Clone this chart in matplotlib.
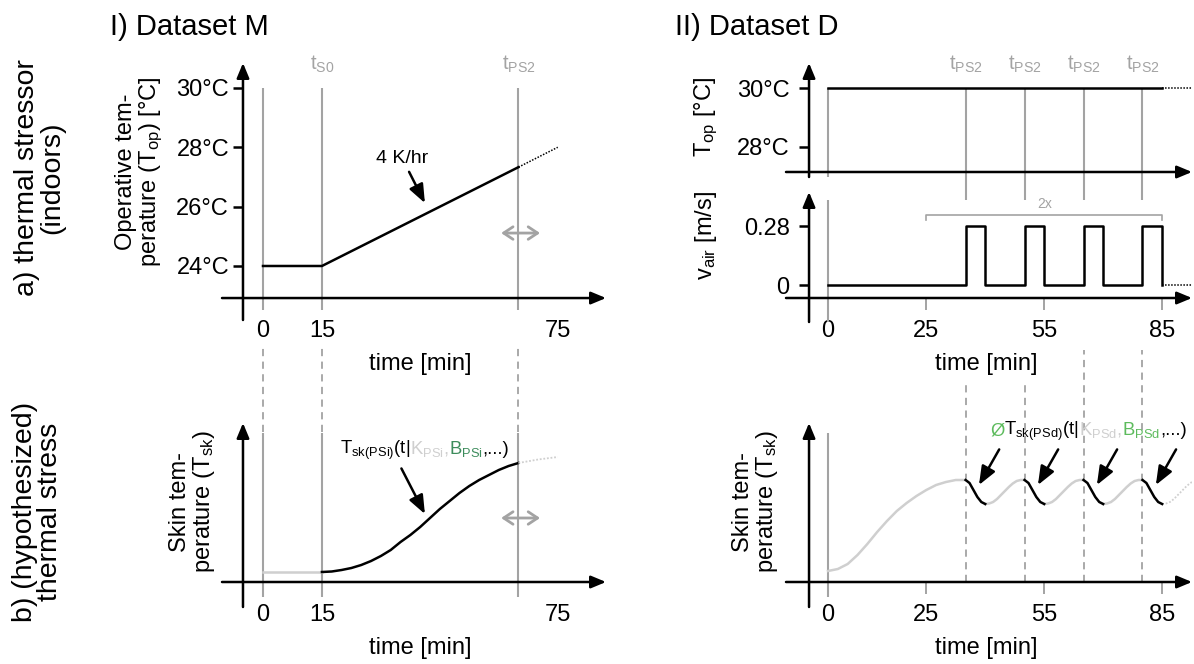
import matplotlib.pyplot as plt
from matplotlib import transforms

plt.rcParams['font.family'] = ['Liberation Sans', 'DejaVu Sans']
plt.rcParams['mathtext.default'] = 'regular'

# ---- I) Dataset M ----
m_top_t = [0, 15, 65]
m_top_T = [24, 24, 27.33]
m_top_dot_t = [65, 75]
m_top_dot_T = [27.33, 28.0]
m_yticks = [24, 26, 28, 30]
m_xticks = [0, 15, 75]
m_marks = [0, 15, 65]          # start, t_S0, t_PS2

m_skin_base_t = [0, 15]
m_skin_base = [10, 10]
m_skin_t = [15, 17.5, 20, 22.5, 25, 27.5, 30, 32.5, 35, 37.5, 40,
            42.5, 45, 47.5, 50, 52.5, 55, 57.5, 60, 62.5, 65]
m_skin = [10, 10.5, 12, 14, 17, 21, 26, 32, 40, 47, 55,
          64, 73, 81, 89, 96, 102, 107, 112, 116, 119]
m_skin_dot_t = [65, 70, 75]
m_skin_dot = [119, 122.5, 125]

# ---- II) Dataset D ----
d_top_t = [0, 85]
d_top_T = [30, 30]
d_tail_t = [85, 93]
d_yticks = [28, 30]
d_xticks = [0, 25, 55, 85]
d_ps2 = [35, 50, 65, 80]
d_bracket = [25, 85]

d_air_t = [0, 35, 35, 40, 40, 50, 50, 55, 55, 65, 65, 70, 70, 80, 80, 85, 85]
d_air_v = [0, 0, 0.28, 0.28, 0, 0, 0.28, 0.28, 0, 0, 0.28, 0.28, 0, 0, 0.28, 0.28, 0]

d_skin_rise_t = [0, 2.5, 5, 7.5, 10, 12.5, 15, 17.5, 20, 22.5, 25, 27.5, 30, 32.5, 35]
d_skin_rise = [11, 13, 18, 27, 38, 50, 61, 71, 79, 86, 92, 97, 100, 102, 102]
# one cycle after each t_PS2 (minutes after the pulse start)
cyc_drop_off = [0, 1, 2, 3, 4, 5]
cyc_drop = [102, 99, 92, 85, 80, 78]
cyc_rise_off = [5, 6, 7, 8, 9, 10, 11, 12, 13, 14, 15]
cyc_rise = [78, 78.5, 80, 83, 87, 91, 95, 98.5, 101, 102, 102]
d_skin_tail_off = [0, 1, 2, 3, 4, 5, 6, 7, 8]
d_skin_tail = [78, 78.5, 80, 83, 87, 91, 95, 98.5, 101]

GRAY = '#a3a3a3'
LGRAY = '#cfcfcf'
GREEN_I = '#3d8c5c'
GREEN_II = '#5dbb5d'
FS = 17

W, H = 1194, 664
fig = plt.figure(figsize=(W / 100, H / 100), dpi=100)

AX_ARROW = dict(arrowstyle='-|>,head_length=0.6,head_width=0.25', lw=1.8,
                color='black', shrinkA=0, shrinkB=0, mutation_scale=15)
PTR = dict(arrowstyle='-|>,head_length=0.75,head_width=0.3', lw=1.8,
           color='black', shrinkA=2, shrinkB=0, mutation_scale=15)
BOTH = dict(arrowstyle='<->,head_length=0.45,head_width=0.3', lw=2,
            color=GRAY, shrinkA=0, shrinkB=0, mutation_scale=15)


def panel(box, xlim, ylim, x0, y0):
    l, t, r, b = box
    ax = fig.add_axes([l / W, 1 - b / H, (r - l) / W, (b - t) / H])
    ax.set_xlim(xlim)
    ax.set_ylim(ylim)
    ax.patch.set_visible(False)
    for s in ['top', 'right']:
        ax.spines[s].set_visible(False)
    ax.spines['left'].set_position(('data', x0))
    ax.spines['bottom'].set_position(('data', y0))
    ax.spines['left'].set_color('none')
    ax.spines['bottom'].set_color('none')
    ax.annotate('', xy=(xlim[1], y0), xytext=(xlim[0], y0),
                arrowprops=AX_ARROW, annotation_clip=False)
    ax.annotate('', xy=(x0, ylim[1]), xytext=(x0, ylim[0]),
                arrowprops=AX_ARROW, annotation_clip=False)
    ax.tick_params(labelsize=FS)
    return ax


def multicolor(ax, x, y, pieces, size):
    r = fig.canvas.get_renderer()
    tr = ax.transData
    for s, c in pieces:
        txt = ax.text(x, y, s, color=c, fontsize=size, ha='left',
                      va='baseline', transform=tr, clip_on=False)
        w = txt.get_window_extent(renderer=r).width
        tr = transforms.offset_copy(tr, x=w, units='dots')


def ftext(px, py, s, **kw):
    return fig.text(px / W, 1 - py / H, s, **kw)


xlim_m = (-10.43, 87.28)
xlim_d = (-10.69, 92.6)

# ---- I a) operative temperature ----
ax = panel((222, 63, 606, 320), xlim_m, (22.18, 30.84), -5.09, 22.92)
ax.set_yticks(m_yticks, [f'{v}°C' for v in m_yticks])
ax.tick_params(axis='y', length=7, width=1.8, pad=3)
ax.set_xticks(m_xticks, [str(v) for v in m_xticks])
ax.tick_params(axis='x', length=0, pad=16)
ax.vlines(m_marks, 22.52, 30, color=GRAY, lw=1.5, clip_on=False)
ax.plot(m_top_t, m_top_T, color='black', lw=1.8)
ax.plot(m_top_dot_t, m_top_dot_T, color='black', lw=1.1, ls=(0, (1, 1)))
ax.annotate('4 K/hr', xy=(41.2, 26.12), xytext=(35.4, 27.35), fontsize=14,
            ha='center', va='bottom', arrowprops=PTR)
ax.annotate('', xy=(70.5, 25.11), xytext=(60.6, 25.11), arrowprops=BOTH)
ax.text(15, 30.45, '$t_{S0}$', color=GRAY, fontsize=14.5, ha='center', va='bottom')
ax.text(65, 30.45, '$t_{PS2}$', color=GRAY, fontsize=14.5, ha='center', va='bottom')

# ---- I b) skin temperature ----
ax = panel((222, 423, 606, 607), xlim_m, (-25, 159), -5.09, 0)
ax.set_yticks([])
ax.set_xticks(m_xticks, [str(v) for v in m_xticks])
ax.tick_params(axis='x', length=0, pad=16)
ax.vlines(m_marks, -15, 149, color=GRAY, lw=1.5, clip_on=False)
ax.vlines(m_marks, 150, 234, color=GRAY, lw=1.3, ls=(0, (4, 3)), clip_on=False)
ax.plot(m_skin_base_t, m_skin_base, color=LGRAY, lw=1.8)
ax.plot(m_skin_t, m_skin, color='black', lw=1.8)
ax.plot(m_skin_dot_t, m_skin_dot, color=LGRAY, lw=1.3, ls=(0, (1, 1)))
ax.annotate('', xy=(41.2, 68), xytext=(34.9, 116), arrowprops=PTR)
ax.annotate('', xy=(70.5, 64), xytext=(60.6, 64), arrowprops=BOTH)
multicolor(ax, 19.6, 128, [('$T_{sk(PSi)}$(t|', 'black'), ('$K_{PSi}$,', LGRAY),
                           ('$B_{PSi}$', GREEN_I), (',...)', 'black')], 13.3)

# ---- II a) operative temperature ----
ax = panel((786, 63, 1192, 177), xlim_d, (26.98, 30.85), -4.83, 27.15)
ax.set_yticks(d_yticks, [f'{v}°C' for v in d_yticks])
ax.tick_params(axis='y', length=7, width=1.8, pad=7)
ax.set_xticks([])
ax.vlines([0], 26.98, 30, color=GRAY, lw=1.5, clip_on=False)
ax.vlines(d_ps2, 26.2, 30, color=GRAY, lw=1.5, clip_on=False)
ax.plot(d_top_t, d_top_T, color='black', lw=1.8)
ax.plot(d_tail_t, [d_top_T[-1]] * 2, color='black', lw=1.1, ls=(0, (1, 1)))
for t in d_ps2:
    ax.text(t, 30.45, '$t_{PS2}$', color=GRAY, fontsize=14.5, ha='center', va='bottom')

# ---- II a) air velocity ----
ax = panel((786, 192, 1192, 322), xlim_d, (-0.1756, 0.4414), -4.83, -0.0617)
ax.set_yticks([0, 0.28], ['0', '0.28'])
ax.tick_params(axis='y', length=7, width=1.8, pad=7)
ax.set_xticks(d_xticks, [str(v) for v in d_xticks])
ax.tick_params(axis='x', length=8.6, width=1.4, color=GRAY, pad=7.5)
ax.vlines([0], -0.1756, 0.403, color=GRAY, lw=1.5, clip_on=False)
ax.plot(d_air_t, d_air_v, color='black', lw=1.8)
ax.plot(d_tail_t, [0, 0], color='black', lw=1.1, ls=(0, (1, 1)))
ax.plot([d_bracket[0], d_bracket[0], d_bracket[1], d_bracket[1]],
        [0.308, 0.332, 0.332, 0.308], color=GRAY, lw=1.2)
ax.text(sum(d_bracket) / 2, 0.35, '2x', color=GRAY, fontsize=10, ha='center', va='bottom')

# ---- II b) skin temperature ----
ax = panel((786, 423, 1192, 607), xlim_d, (-25, 159), -4.83, 0)
ax.set_yticks([])
ax.set_xticks(d_xticks, [str(v) for v in d_xticks])
ax.tick_params(axis='x', length=8.6, width=1.4, color=GRAY, pad=7.5)
ax.vlines([0], -15, 149, color=GRAY, lw=1.5, clip_on=False)
ax.vlines(d_ps2, 0, 232, color=GRAY, lw=1.3, ls=(0, (4, 3)), clip_on=False)
ax.plot(d_skin_rise_t, d_skin_rise, color=LGRAY, lw=1.8)
for t in d_ps2:
    ax.plot([t + o for o in cyc_drop_off], cyc_drop, color='black', lw=1.8, zorder=3)
    if t < d_ps2[-1]:
        ax.plot([t + o for o in cyc_rise_off], cyc_rise, color=LGRAY, lw=1.8)
    ax.annotate('', xy=(t + 3.4, 97), xytext=(t + 8.9, 135), arrowprops=PTR)
ax.plot([d_ps2[-1] + 5 + o for o in d_skin_tail_off], d_skin_tail,
        color=LGRAY, lw=1.3, ls=(0, (1, 1)))
multicolor(ax, 41.2, 147, [('Ø', GREEN_II), ('$T_{sk(PSd)}$(t|', 'black'),
                           ('$K_{PSd}$,', LGRAY), ('$B_{PSd}$', GREEN_II),
                           (',...)', 'black')], 13.3)

# ---- labels ----
ftext(110, 27, 'I) Dataset M', fontsize=21, ha='left', va='center')
ftext(675, 27, 'II) Dataset D', fontsize=21, ha='left', va='center')
ftext(40, 178, 'a) thermal stressor\n(indoors)', fontsize=20.5, rotation=90,
      ha='center', va='center', multialignment='center', linespacing=0.95)
ftext(38, 512, 'b) (hypothesized)\nthermal stress', fontsize=20.5, rotation=90,
      ha='center', va='center', multialignment='center', linespacing=0.95)
ftext(140, 172, 'Operative tem-\nperature ($T_{op}$) [°C]', fontsize=FS, rotation=90,
      ha='center', va='center', multialignment='center', linespacing=1.0)
ftext(193, 502, 'Skin tem-\nperature ($T_{sk}$)', fontsize=FS, rotation=90,
      ha='center', va='center', multialignment='center', linespacing=1.0)
ftext(706, 117, '$T_{op}$ [°C]', fontsize=FS, rotation=90, ha='center', va='center')
ftext(706, 235, '$v_{air}$ [m/s]', fontsize=FS, rotation=90, ha='center', va='center')
ftext(756, 502, 'Skin tem-\nperature ($T_{sk}$)', fontsize=FS, rotation=90,
      ha='center', va='center', multialignment='center', linespacing=1.0)
ftext(420, 364, 'time [min]', fontsize=FS, ha='center', va='center')
ftext(420, 648, 'time [min]', fontsize=FS, ha='center', va='center')
ftext(986, 364, 'time [min]', fontsize=FS, ha='center', va='center',
      bbox=dict(facecolor='white', edgecolor='none', pad=4), zorder=5)
ftext(986, 648, 'time [min]', fontsize=FS, ha='center', va='center')

fig.savefig('out.png', dpi=100)
